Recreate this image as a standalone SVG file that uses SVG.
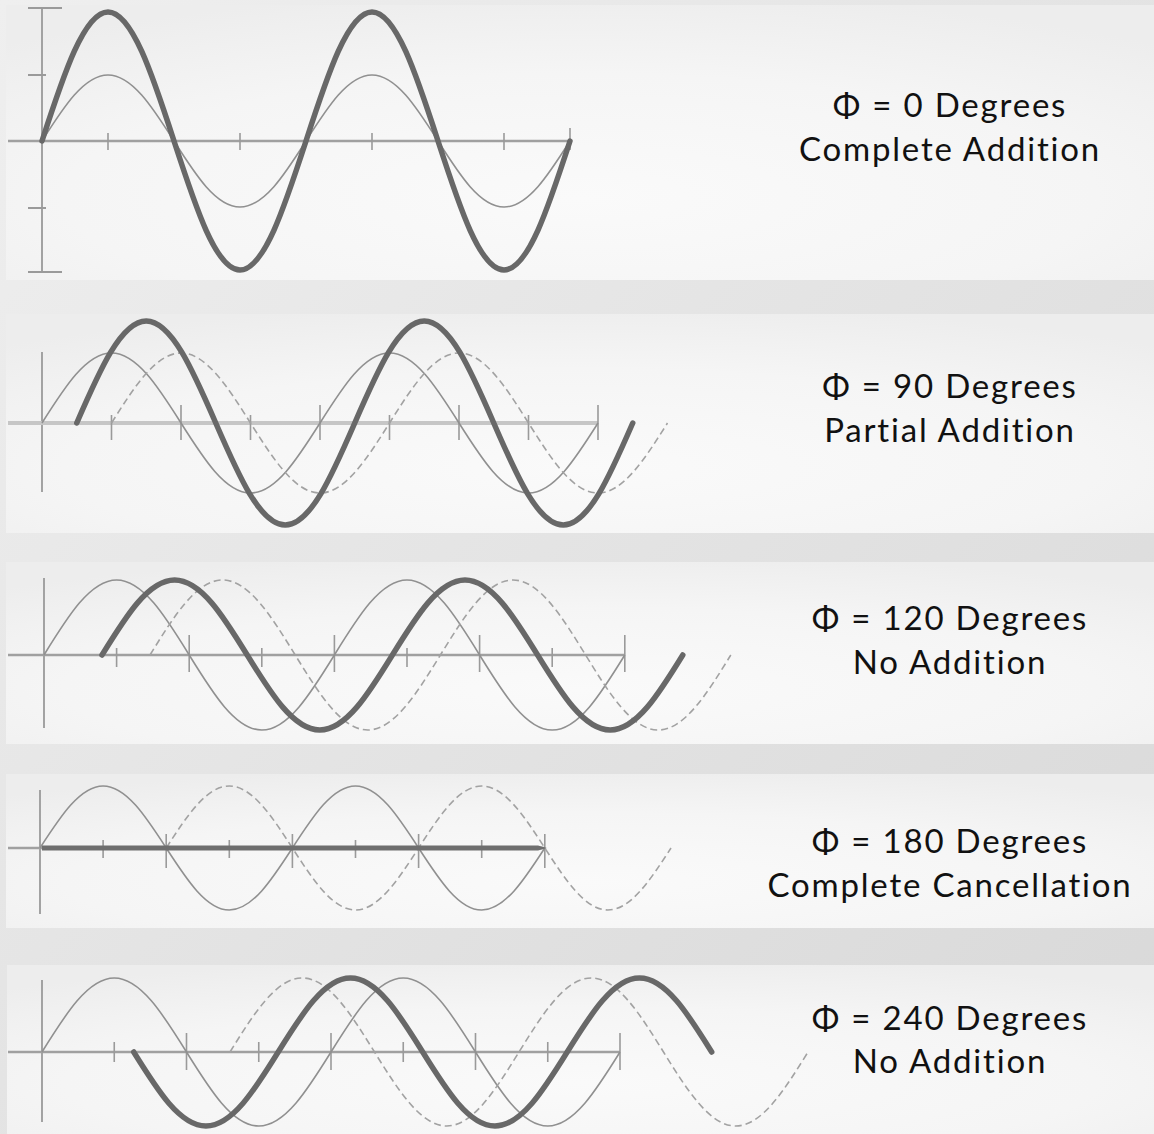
<svg xmlns="http://www.w3.org/2000/svg" width="1154" height="1134" viewBox="0 0 1154 1134">
<defs>
<linearGradient id="bg" x1="0" y1="0" x2="1" y2="1">
<stop offset="0" stop-color="#efefef"/>
<stop offset="1" stop-color="#d8d8d8"/>
</linearGradient>
<radialGradient id="pn" cx="0.5" cy="0.7" r="0.75">
<stop offset="0" stop-color="#fafafa"/>
<stop offset="0.6" stop-color="#f5f5f5"/>
<stop offset="1" stop-color="#ededed"/>
</radialGradient>
<style>
.panel{fill:url(#pn)}
.axis{stroke:#a0a0a0;stroke-width:2.5;fill:none}
.axis2{stroke:#c6c6c6;stroke-width:4;fill:none}
.vax{stroke:#9a9a9a;stroke-width:1.8;fill:none}
.tick{stroke:#9a9a9a;stroke-width:1.6;fill:none}
.thick{stroke:#686868;stroke-width:5.5;fill:none;stroke-linecap:round;stroke-linejoin:round}
.thin{stroke:#909090;stroke-width:1.6;fill:none}
.dash{stroke:#a2a2a2;stroke-width:1.6;fill:none;stroke-dasharray:7 4}
.lbl{font-family:Lato,"Open Sans","DejaVu Sans",sans-serif;font-size:33px;letter-spacing:1.8px;fill:#111;text-anchor:middle}
</style>
</defs>
<rect width="1154" height="1134" fill="url(#bg)"/>

<g id="panel-0">
<rect class="panel" x="6" y="5" width="1148" height="275"/>
<path class="vax" d="M42,8V272M28,8H62M28,272H62M28,75H46M28,208H46"/>
<path class="axis" d="M8,141H570"/>
<path class="tick" d="M108,133V150M240,133V150M372,133V150M504,133V150M570,128V150"/>
<path class="thin" d="M42,141 c21.52,-33.81 42.11,-66 66,-66 s44.48,32.19 66,66 s42.11,66 66,66 s44.48,-32.19 66,-66 s42.11,-66 66,-66 s44.48,32.19 66,66 s42.11,66 66,66 s44.48,-32.19 66,-66"/>
<path class="thick" d="M42,141 c21.52,-66.09 42.11,-129 66,-129 s44.48,62.91 66,129 s42.11,129 66,129 s44.48,-62.91 66,-129 s42.11,-129 66,-129 s44.48,62.91 66,129 s42.11,129 66,129 s44.48,-62.91 66,-129"/>
<text class="lbl" x="950" y="117">Φ = 0 Degrees</text>
<text class="lbl" x="950" y="161">Complete Addition</text>
</g>

<g id="panel-90">
<rect class="panel" x="6" y="314" width="1148" height="219"/>
<path class="vax" d="M42,352V492"/>
<path class="axis2" d="M8,423H598"/>
<path class="tick" d="M111.5,415V440M181,405V440M250.5,415V440M320,405V440M389.5,415V440M459,405V440M528.5,415V440M598,405V440"/>
<path class="thin" d="M42,423 c22.66,-35.86 44.35,-70 69.5,-70 s46.84,34.14 69.5,70 s44.35,70 69.5,70 s46.84,-34.14 69.5,-70 s44.35,-70 69.5,-70 s46.84,34.14 69.5,70 s44.35,70 69.5,70 s46.84,-34.14 69.5,-70"/>
<path class="dash" d="M111.5,423 c22.66,-35.86 44.35,-70 69.5,-70 s46.84,34.14 69.5,70 s44.35,70 69.5,70 s46.84,-34.14 69.5,-70 s44.35,-70 69.5,-70 s46.84,34.14 69.5,70 s44.35,70 69.5,70 s46.84,-34.14 69.5,-70"/>
<path class="thick" d="M76.75,423 c22.66,-52.25 44.35,-102 69.5,-102 s46.84,49.75 69.5,102 s44.35,102 69.5,102 s46.84,-49.75 69.5,-102 s44.35,-102 69.5,-102 s46.84,49.75 69.5,102 s44.35,102 69.5,102 s46.84,-49.75 69.5,-102"/>
<text class="lbl" x="950" y="398">Φ = 90 Degrees</text>
<text class="lbl" x="950" y="442">Partial Addition</text>
</g>

<g id="panel-120">
<rect class="panel" x="6" y="562" width="1148" height="182"/>
<path class="vax" d="M44,578V728"/>
<path class="axis" d="M8,655H625"/>
<path class="tick" d="M116.6,648V667M189.2,635V672M261.8,648V667M334.4,635V672M407,648V667M479.6,635V672M552.2,648V667M624.8,635V672"/>
<path class="thin" d="M44,655 c23.67,-38.42 46.33,-75 72.6,-75 s48.93,36.58 72.6,75 s46.33,75 72.6,75 s48.93,-36.58 72.6,-75 s46.33,-75 72.6,-75 s48.93,36.58 72.6,75 s46.33,75 72.6,75 s48.93,-36.58 72.6,-75"/>
<path class="dash" d="M150,655 c23.67,-38.42 46.33,-75 72.6,-75 s48.93,36.58 72.6,75 s46.33,75 72.6,75 s48.93,-36.58 72.6,-75 s46.33,-75 72.6,-75 s48.93,36.58 72.6,75 s46.33,75 72.6,75 s48.93,-36.58 72.6,-75"/>
<path class="thick" d="M102,655 c23.67,-38.42 46.33,-75 72.6,-75 s48.93,36.58 72.6,75 s46.33,75 72.6,75 s48.93,-36.58 72.6,-75 s46.33,-75 72.6,-75 s48.93,36.58 72.6,75 s46.33,75 72.6,75 s48.93,-36.58 72.6,-75"/>
<text class="lbl" x="950" y="630">Φ = 120 Degrees</text>
<text class="lbl" x="950" y="674">No Addition</text>
</g>

<g id="panel-180">
<rect class="panel" x="6" y="774" width="1148" height="154"/>
<path class="vax" d="M40,790V914"/>
<path class="axis" d="M8,848H545"/>
<path class="tick" d="M103.1,840V858M166.2,834V868M229.3,840V858M292.4,834V868M355.5,840V858M418.6,834V868M481.7,840V858M544.8,834V868"/>
<path class="thin" d="M40,848 c20.58,-31.76 40.26,-62 63.1,-62 s42.52,30.24 63.1,62 s40.26,62 63.1,62 s42.52,-30.24 63.1,-62 s40.26,-62 63.1,-62 s42.52,30.24 63.1,62 s40.26,62 63.1,62 s42.52,-30.24 63.1,-62"/>
<path class="dash" d="M166.2,848 c20.58,-31.76 40.26,-62 63.1,-62 s42.52,30.24 63.1,62 s40.26,62 63.1,62 s42.52,-30.24 63.1,-62 s40.26,-62 63.1,-62 s42.52,30.24 63.1,62 s40.26,62 63.1,62 s42.52,-30.24 63.1,-62"/>
<path d="M42,845.5H538L547,848L538,850.5H42Z" fill="#6e6e6e"/>
<text class="lbl" x="950" y="853">Φ = 180 Degrees</text>
<text class="lbl" x="950" y="897">Complete Cancellation</text>
</g>

<g id="panel-240">
<rect class="panel" x="7" y="965" width="1147" height="169"/>
<path class="vax" d="M42,980V1122"/>
<path class="axis" d="M8,1052H620"/>
<path class="tick" d="M114.25,1042V1062M186.5,1033V1070M258.75,1042V1062M331,1033V1070M403.25,1042V1062M475.5,1033V1070M547.75,1042V1062M620,1033V1070"/>
<path class="thin" d="M42,1052 c23.56,-37.91 46.1,-74 72.25,-74 s48.69,36.09 72.25,74 s46.1,74 72.25,74 s48.69,-36.09 72.25,-74 s46.1,-74 72.25,-74 s48.69,36.09 72.25,74 s46.1,74 72.25,74 s48.69,-36.09 72.25,-74"/>
<path class="dash" d="M230,1052 c23.56,-37.91 46.1,-74 72.25,-74 s48.69,36.09 72.25,74 s46.1,74 72.25,74 s48.69,-36.09 72.25,-74 s46.1,-74 72.25,-74 s48.69,36.09 72.25,74 s46.1,74 72.25,74 s48.69,-36.09 72.25,-74"/>
<path class="thick" d="M133.7,1052 c23.56,37.91 46.1,74 72.25,74 s48.69,-36.09 72.25,-74 s46.1,-74 72.25,-74 s48.69,36.09 72.25,74 s46.1,74 72.25,74 s48.69,-36.09 72.25,-74 s46.1,-74 72.25,-74 s48.69,36.09 72.25,74"/>
<text class="lbl" x="950" y="1030">Φ = 240 Degrees</text>
<text class="lbl" x="950" y="1073">No Addition</text>
</g>
</svg>
